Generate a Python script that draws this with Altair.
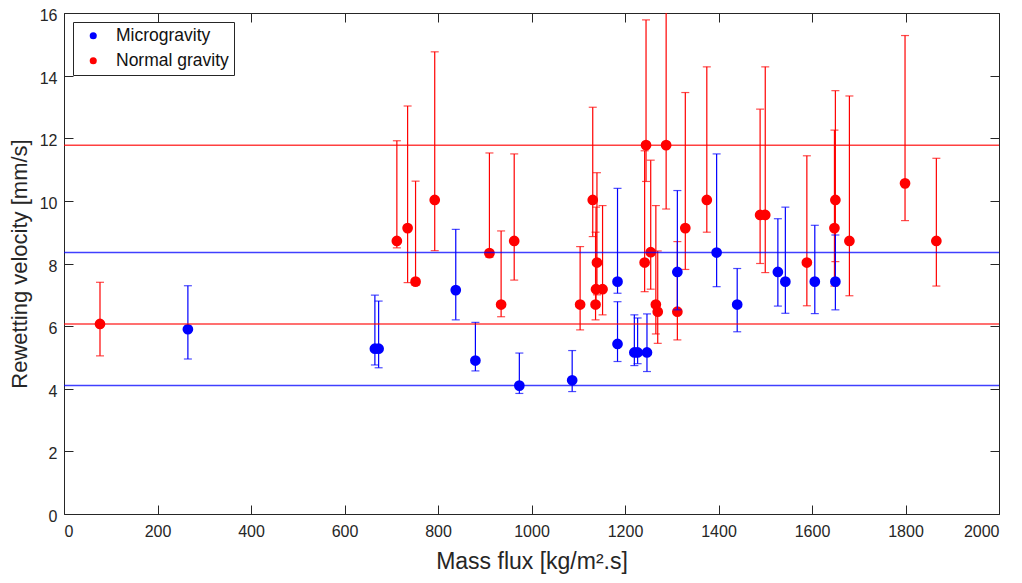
import altair as alt
import pandas as pd

groups = ["Microgravity", "Normal gravity"]
colors = ["#0000ff", "#ff0000"]

micro_flux = [265, 665, 673, 838, 880, 974, 1087, 1184, 1184, 1220, 1227, 1247, 1312, 1396, 1440, 1527, 1543, 1606, 1650]
micro_vel = [5.90, 5.28, 5.28, 7.15, 4.90, 4.10, 4.27, 7.42, 5.43, 5.16, 5.16, 5.16, 7.73, 8.35, 6.69, 7.73, 7.42, 7.42, 7.42]
micro_low = [4.95, 4.76, 4.67, 6.20, 4.57, 3.85, 3.91, 7.05, 4.87, 4.74, 4.80, 4.55, 6.52, 7.26, 5.82, 6.64, 6.41, 6.40, 6.52]
micro_high = [7.29, 6.99, 6.80, 9.09, 6.12, 5.14, 5.22, 10.40, 6.78, 6.36, 6.26, 6.39, 10.33, 11.50, 7.84, 9.43, 9.80, 9.22, 8.91]

normal_flux = [77, 712, 735, 752, 793, 910, 935, 963, 1104, 1131, 1137, 1138, 1140, 1152, 1242, 1245, 1255, 1266, 1270, 1288,
               1312, 1329, 1375, 1489, 1500, 1589, 1648, 1650, 1680, 1799, 1866]
normal_vel = [6.07, 8.72, 9.13, 7.42, 10.03, 8.33, 6.69, 8.72, 6.69, 10.03, 6.69, 7.18, 8.03, 7.18, 8.03, 11.78, 8.36, 6.69, 6.46, 11.78,
              6.46, 9.13, 10.03, 9.55, 9.55, 8.03, 9.13, 10.03, 8.72, 10.56, 8.72]
normal_low = [5.05, 8.50, 7.39, 7.30, 8.41, 8.20, 6.30, 7.47, 5.88, 8.86, 6.20, 6.60, 7.00, 6.36, 7.10, 10.62, 7.18, 5.75, 5.45, 9.74,
              5.56, 7.81, 9.00, 8.00, 7.71, 6.65, 7.28, 8.06, 6.97, 9.37, 7.28]
normal_high = [7.40, 11.92, 13.03, 10.63, 14.76, 11.53, 9.04, 11.50, 8.54, 12.99, 9.00, 9.80, 10.90, 9.85, 11.60, 15.78, 11.30, 9.85, 8.40, 16.50,
               8.70, 13.46, 14.28, 12.93, 14.28, 11.44, 12.26, 13.52, 13.35, 15.28, 11.36]

x_ticks = list(range(0, 2001, 200))
y_ticks = list(range(0, 17, 2))

df = pd.concat([
    pd.DataFrame({"group": groups[1], "flux": normal_flux, "vel": normal_vel, "low": normal_low, "high": normal_high}),
    pd.DataFrame({"group": groups[0], "flux": micro_flux, "vel": micro_vel, "low": micro_low, "high": micro_high}),
], ignore_index=True)

# min / max of each group's velocities (the horizontal reference lines)
lines = df.groupby("group")["vel"].agg(["min", "max"]).reset_index().melt(id_vars="group", value_name="value")

xs = alt.Scale(domain=[0, 2000], nice=False)
ys = alt.Scale(domain=[0, 16], nice=False)
cs = alt.Scale(domain=groups, range=colors)
AX = "#262626"

legend = alt.Legend(orient="none", legendX=9, legendY=9, title=None, padding=5, symbolOffset=6.5,
                    labelOffset=14, rowPadding=6, labelFontSize=17.5, labelFont="Liberation Sans",
                    symbolSize=50, symbolType="circle", strokeColor=AX, fillColor="white",
                    labelColor="#111111", symbolStrokeWidth=0)

x_bottom = alt.Axis(values=x_ticks, format="d", offset=-9, tickSize=9, domain=False, grid=False, labelPadding=9,
                    titlePadding=11, title="Mass flux [kg/m².s]", titleFontSize=23)
y_left = alt.Axis(values=y_ticks, format="d", offset=-9, tickSize=9, domain=False, grid=False, labelPadding=7,
                  labelOffset=2.5, titlePadding=8, title="Rewetting velocity [mm/s]", titleFontSize=22)
x_top = alt.Axis(values=x_ticks, orient="top", offset=-9, tickSize=9, domain=False, grid=False, labels=False, title=None)
y_right = alt.Axis(values=y_ticks, orient="right", offset=-9, tickSize=9, domain=False, grid=False, labels=False, title=None)

layers = []
for g in ["Normal gravity", "Microgravity"]:
    col = colors[groups.index(g)]
    b = alt.Chart(df).transform_filter(alt.datum.group == g)
    x_noax = alt.X("flux:Q", scale=xs, axis=None)
    rules = b.mark_rule(strokeWidth=1.2, clip=True, color=col).encode(
        x=x_noax, y=alt.Y("low:Q", scale=ys, axis=None), y2="high:Q")
    cap_lo = b.mark_tick(orient="horizontal", size=8, thickness=1.2, clip=True, color=col).encode(
        x=x_noax, y=alt.Y("low:Q", scale=ys, axis=None))
    cap_hi = b.mark_tick(orient="horizontal", size=8, thickness=1.2, clip=True, color=col).encode(
        x=x_noax, y=alt.Y("high:Q", scale=ys, axis=None))
    if g == "Normal gravity":
        xa, ya = x_bottom, y_left
    else:
        xa, ya = x_top, y_right
    pts = b.mark_circle(size=115, opacity=1).encode(
        x=alt.X("flux:Q", scale=xs, axis=xa), y=alt.Y("vel:Q", scale=ys, axis=ya),
        color=alt.Color("group:N", scale=cs, legend=legend))
    layers += [rules, cap_lo, cap_hi, pts]

for g in ["Normal gravity", "Microgravity"]:
    col = colors[groups.index(g)]
    hl = alt.Chart(lines).transform_filter(alt.datum.group == g).mark_rule(
        strokeWidth=1.5, opacity=0.75, color=col).encode(y=alt.Y("value:Q", scale=ys, axis=None))
    layers.append(hl)

chart = alt.layer(*layers).resolve_axis(x="independent", y="independent").properties(
    width=935, height=501,
    autosize=alt.AutoSizeParams(type="none"),
    padding={"left": 56, "top": 5, "right": 15, "bottom": 60},
).configure(font="Liberation Sans").configure_view(stroke=AX, strokeWidth=1).configure_axis(
    tickColor=AX, tickWidth=1, labelColor=AX, titleColor=AX, labelFontSize=16,
    titleFontWeight="normal", labelFont="Liberation Sans", titleFont="Liberation Sans",
)

chart.save("out.html", embed_options={"renderer": "svg", "actions": False})
